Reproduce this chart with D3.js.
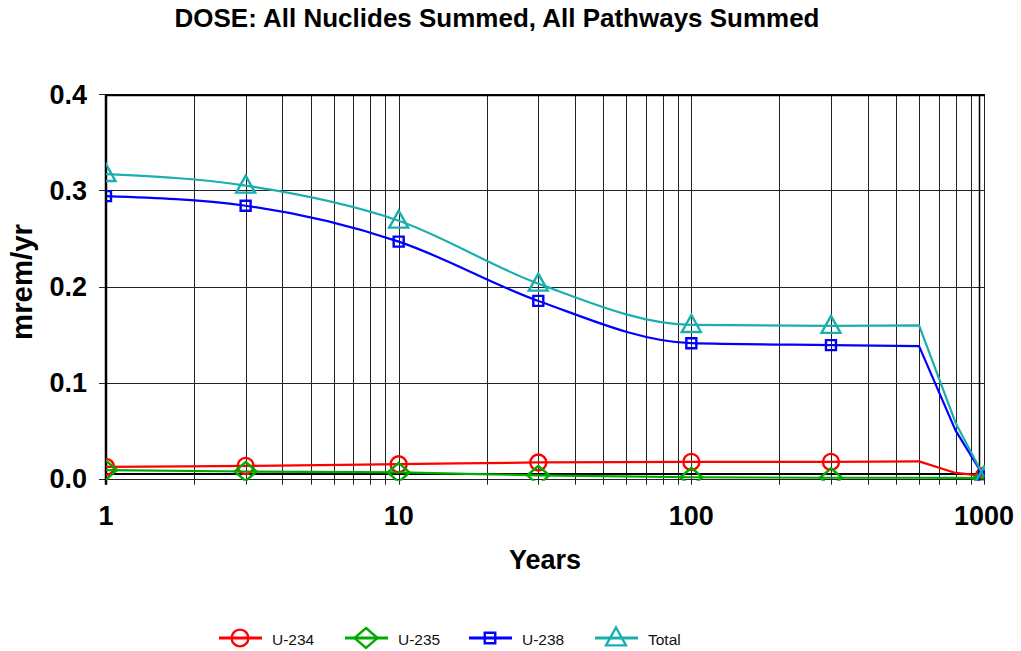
<!DOCTYPE html>
<html>
<head>
<meta charset="utf-8">
<script src="https://cdn.jsdelivr.net/npm/d3@7"></script>
<style>
  html, body { margin: 0; padding: 0; background: #fff; }
  svg { display: block; font-family: "Liberation Sans", Arial, sans-serif; }
</style>
</head>
<body>
<svg id="chart" width="1021" height="651"></svg>
<script>
// ---- data ----
const years   = [1, 3, 10, 30, 100, 300, 600, 800, 1000];
const u234    = [0.0123, 0.0133, 0.0151, 0.0169, 0.0175, 0.0175, 0.0180, 0.0060, 0.0030];
const u235    = [0.0090, 0.0075, 0.0065, 0.0035, 0.0015, 0.0010, 0.0010, 0.0008, 0.0005];
const u238    = [0.294, 0.284, 0.2467, 0.185, 0.141, 0.139, 0.138, 0.050, 0.002];
const total   = [0.317, 0.305, 0.2685, 0.203, 0.160, 0.159, 0.1595, 0.058, 0.002];
const markerYears = [1, 3, 10, 30, 100, 300, 1000];
const smoothUntil = 600;
const seriesNames = ["U-234", "U-235", "U-238", "Total"];
const yTicks = [0, 0.1, 0.2, 0.3, 0.4];
const xTickLabels = [1, 10, 100, 1000];
const baselineValue = [0.005];
const titleText = "DOSE: All Nuclides Summed, All Pathways Summed";
const xTitle = "Years";
const yTitle = "mrem/yr";

// ---- layout / styles ----
const pL = 106, pR = 984, pT = 94.3, pB = 478.7;
const colors = {"U-234": "#ff0000", "U-235": "#00aa00", "U-238": "#0000ff", "Total": "#1aafaf"};
const shapes = {"U-234": "circle", "U-235": "diamond", "U-238": "square", "Total": "triangle"};
const valuesBy = {"U-234": u234, "U-235": u235, "U-238": u238, "Total": total};

const svg = d3.select("#chart");
const x = d3.scaleLog().domain([1, 1000]).range([pL, pR]);
const y = d3.scaleLinear().domain([0, 0.4]).range([pB, pT]);

// clip
svg.append("defs").append("clipPath").attr("id", "clip")
  .append("rect").attr("x", pL).attr("y", pT - 2).attr("width", pR - pL + 1).attr("height", pB - pT + 4);

// grid: vertical
const minor = [];
for (let k = 0; k < 3; k++) for (let m = 1; m < 10; m++) minor.push(m * Math.pow(10, k));
minor.push(1000);
svg.append("g").selectAll("line").data(minor).join("line")
  .attr("x1", d => Math.round(x(d)) + 0.5).attr("x2", d => Math.round(x(d)) + 0.5)
  .attr("y1", pT).attr("y2", pB + 6)
  .attr("stroke", "#222").attr("stroke-width", 1);

// grid: horizontal
svg.append("g").selectAll("line").data(yTicks).join("line")
  .attr("x1", pL - 7).attr("x2", pR + 1)
  .attr("y1", d => Math.round(y(d)) + 0.5).attr("y2", d => Math.round(y(d)) + 0.5)
  .attr("stroke", "#222").attr("stroke-width", 1);

// frame
svg.append("line").attr("x1", pL).attr("x2", pL).attr("y1", pT).attr("y2", pB + 6)
  .attr("stroke", "#000").attr("stroke-width", 2.5);
svg.append("line").attr("x1", pL).attr("x2", pR + 1).attr("y1", pT + 1).attr("y2", pT + 1)
  .attr("stroke", "#000").attr("stroke-width", 2);
svg.append("line").attr("x1", 979.5).attr("x2", 979.5).attr("y1", pT).attr("y2", pB)
  .attr("stroke", "#000").attr("stroke-width", 1.5);

// baseline reference line
svg.append("g").selectAll("line").data(baselineValue).join("line")
  .attr("x1", pL).attr("x2", pR)
  .attr("y1", d => y(d)).attr("y2", d => y(d))
  .attr("stroke", "#000").attr("stroke-width", 2);

// axis tick labels
svg.append("g").selectAll("text").data(yTicks).join("text")
  .attr("x", 87).attr("y", d => y(d)).attr("dy", "0.36em")
  .attr("text-anchor", "end").attr("font-size", 27).attr("font-weight", "bold")
  .text(d => d.toFixed(1));
svg.append("g").selectAll("text").data(xTickLabels).join("text")
  .attr("x", d => x(d)).attr("y", 525)
  .attr("text-anchor", "middle").attr("font-size", 27).attr("font-weight", "bold")
  .text(d => d);

// titles
svg.append("text").attr("x", 497).attr("y", 27).attr("text-anchor", "middle")
  .attr("font-size", 26).attr("font-weight", "bold")
  .attr("textLength", 645).attr("lengthAdjust", "spacingAndGlyphs")
  .text(titleText);
svg.append("text").attr("x", 545).attr("y", 569).attr("text-anchor", "middle")
  .attr("font-size", 27).attr("font-weight", "bold").text(xTitle);
svg.append("text").attr("transform", "translate(32,282) rotate(-90)")
  .attr("text-anchor", "middle").attr("font-size", 29).attr("font-weight", "bold")
  .attr("textLength", 116).attr("lengthAdjust", "spacingAndGlyphs")
  .text(yTitle);

// marker path generator
function markerPath(shape, s) {
  s = s || 1;
  switch (shape) {
    case "circle": return d3.symbol(d3.symbolCircle, Math.PI * 64 * s * s)();
    case "square": return `M${-5*s},${-5*s}H${5*s}V${5*s}H${-5*s}Z`;
    case "diamond": return `M0,${-9.5*s}L${11*s},0L0,${9.5*s}L${-11*s},0Z`;
    case "triangle": return `M0,${-10*s}L${9.5*s},${7*s}H${-9.5*s}Z`;
  }
}

// series
const smooth = d3.line().x(d => x(d[0])).y(d => y(d[1])).curve(d3.curveMonotoneX);
const straight = d3.line().x(d => x(d[0])).y(d => y(d[1]));
const plot = svg.append("g").attr("clip-path", "url(#clip)");
seriesNames.forEach(name => {
  const vals = valuesBy[name];
  const pts = years.map((t, i) => [t, vals[i]]);
  const a = pts.filter(p => p[0] <= smoothUntil);
  const b = pts.filter(p => p[0] >= smoothUntil);
  plot.append("path").attr("d", smooth(a) + straight(b).replace(/^M/, "L"))
    .attr("fill", "none").attr("stroke", colors[name]).attr("stroke-width", 2.2)
    .attr("stroke-linejoin", "round");
  const mpts = pts.filter(p => markerYears.includes(p[0]));
  plot.append("g").selectAll("path").data(mpts).join("path")
    .attr("transform", d => `translate(${x(d[0])},${y(d[1])})`)
    .attr("d", markerPath(shapes[name]))
    .attr("fill", "none").attr("stroke", colors[name]).attr("stroke-width", 2.4);
});

// legend
const legX = [219, 345, 469, 595];
const legY = 638;
const leg = svg.append("g").selectAll("g").data(seriesNames).join("g")
  .attr("transform", (d, i) => `translate(${legX[i]},${legY})`);
leg.append("line").attr("x1", 0).attr("x2", 43).attr("y1", 0).attr("y2", 0)
  .attr("stroke", d => colors[d]).attr("stroke-width", 3);
leg.append("path").attr("transform", "translate(21,0)")
  .attr("d", d => markerPath(shapes[d], 1.05))
  .attr("fill", "none").attr("stroke", d => colors[d]).attr("stroke-width", 2.4);
leg.append("text").attr("x", 53).attr("y", 7)
  .attr("font-size", 15.5).attr("fill", "#111").text(d => d);
</script>
</body>
</html>
